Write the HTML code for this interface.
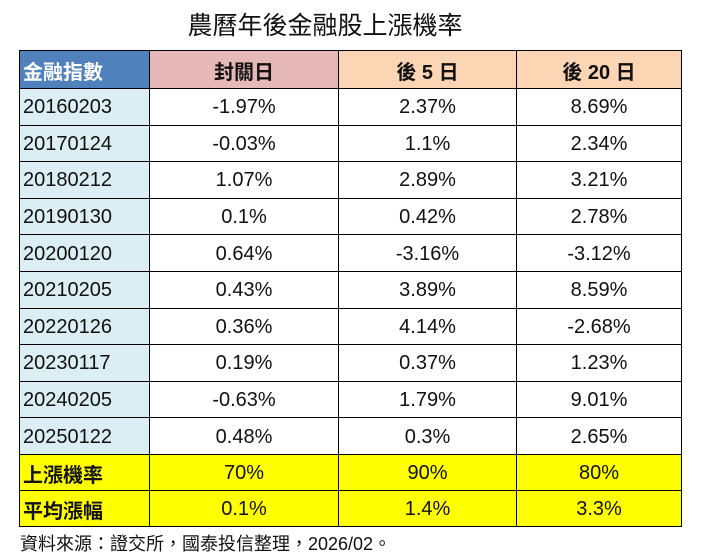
<!DOCTYPE html>
<html><head><meta charset="utf-8"><style>
body{margin:0;width:705px;height:558px;background:#fff;position:relative;overflow:hidden;font-family:"Liberation Sans","Noto Sans CJK TC",sans-serif;}
.t{position:absolute;left:0;top:6px;width:650px;text-align:center;font-size:25px;color:#111;}
table{position:absolute;left:19px;top:50px;border-collapse:collapse;table-layout:fixed;}
td{border:1.5px solid #000;font-size:20px;color:#111;text-align:center;padding:2px 0 0 0;height:33.6px;}
td:first-child{text-align:left;padding-left:3px;background:#daeef3;}
tr.h td{height:35px;font-weight:bold;}
tr.h td:nth-child(1){background:#4f81bd;color:#fff;}
tr.h td:nth-child(2){background:#e6b8b7;}
tr.h td:nth-child(3),tr.h td:nth-child(4){background:#fcd5b4;}
tr.y td{background:#ffff00;height:33px;}
tr.y td:first-child{background:#ffff00;font-weight:bold;}
.f{position:absolute;left:20px;top:530px;font-size:18px;color:#111;}
</style></head><body>
<div class="t">農曆年後金融股上漲機率</div>
<table>
<colgroup><col style="width:130px"><col style="width:189px"><col style="width:178px"><col style="width:165px"></colgroup>
<tr class="h"><td>金融指數</td><td>封關日</td><td>後&nbsp;5&nbsp;日</td><td>後&nbsp;20&nbsp;日</td></tr>
<tr><td>20160203</td><td>-1.97%</td><td>2.37%</td><td>8.69%</td></tr>
<tr><td>20170124</td><td>-0.03%</td><td>1.1%</td><td>2.34%</td></tr>
<tr><td>20180212</td><td>1.07%</td><td>2.89%</td><td>3.21%</td></tr>
<tr><td>20190130</td><td>0.1%</td><td>0.42%</td><td>2.78%</td></tr>
<tr><td>20200120</td><td>0.64%</td><td>-3.16%</td><td>-3.12%</td></tr>
<tr><td>20210205</td><td>0.43%</td><td>3.89%</td><td>8.59%</td></tr>
<tr><td>20220126</td><td>0.36%</td><td>4.14%</td><td>-2.68%</td></tr>
<tr><td>20230117</td><td>0.19%</td><td>0.37%</td><td>1.23%</td></tr>
<tr><td>20240205</td><td>-0.63%</td><td>1.79%</td><td>9.01%</td></tr>
<tr><td>20250122</td><td>0.48%</td><td>0.3%</td><td>2.65%</td></tr>
<tr class="y"><td>上漲機率</td><td>70%</td><td>90%</td><td>80%</td></tr>
<tr class="y"><td>平均漲幅</td><td>0.1%</td><td>1.4%</td><td>3.3%</td></tr>
</table>
<div class="f">資料來源：證交所，國泰投信整理，2026/02。</div>
</body></html>
